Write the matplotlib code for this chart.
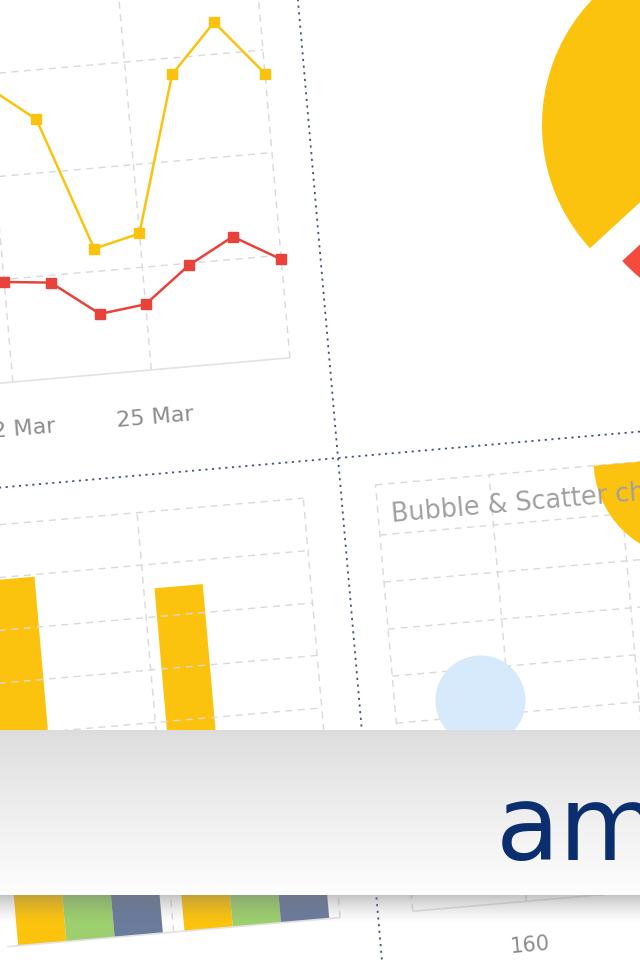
import numpy as np
import matplotlib
matplotlib.use('Agg')
import matplotlib.pyplot as plt
from matplotlib.transforms import Affine2D
from matplotlib.patches import Polygon

# line chart (daily values)
dates = ['22 Mar', '23 Mar', '24 Mar', '25 Mar', '26 Mar', '27 Mar', '28 Mar']
yellow_line = [28.8, 25.2, 12.2, 13.3, 28.4, 33.1, 27.7]
red_line = [9.75, 9.3, 5.85, 6.4, 9.8, 12.2, 9.6]

# clustered columns
bar_groups = ['A', 'B']
bars_yellow = [69.6, 65.4]
bars_green = [31, 33]
bars_blue = [24, 28]

# pie
pie_sizes = [128, 232]

# bubbles
bubble_x = [155.6, 191.2]
bubble_y = [43.3, 90.1]
bubble_value = [23, 50]
bubble_ticks = [160]

YELLOW = '#fcc30e'
RED = '#e8423a'
GRID = '#d9d9d9'
W, H = 640, 960

fig = plt.figure(figsize=(6.4, 9.6), dpi=100)
fig.patch.set_facecolor('white')

# whole picture is tilted a few degrees around the panel cross
rot = Affine2D().rotate_deg_around(338, H - 458, 5)


def panel(left, top, right, bottom):
    ax = fig.add_axes([left / W, 1 - bottom / H, (right - left) / W, (bottom - top) / H])
    ax.set_axis_off()
    return ax


dash = dict(color=GRID, lw=1, linestyles=(0, (5, 4)), clip_on=False)

# ---- line chart
ax1 = panel(-118.3, -58, 298.8, 354)
T1 = ax1.transData + rot
ax1.hlines([10, 20, 30], -3, 6, transform=T1, **dash)
ax1.vlines([0, 3, 6], 0, 40, transform=T1, **dash)
ax1.hlines([0], -3, 6, transform=T1, color='#e2e2e2', lw=1.2, clip_on=False)
xi = np.arange(len(yellow_line))
ax1.plot(xi, yellow_line, color=YELLOW, lw=1.8, marker='s', ms=7, transform=T1, clip_on=False)
ax1.plot(xi, red_line, color=RED, lw=1.8, marker='s', ms=7, transform=T1, clip_on=False)
for i in (0, 3):
    ax1.text(i, -4.66, dates[i], transform=T1, rotation=5, rotation_mode='anchor',
             ha='center', va='center', fontsize=16, color='#8c8c8c', clip_on=False)
ax1.set_xlim(-3, 6)
ax1.set_ylim(0, 40)

# ---- bar chart
ax2 = panel(-34, 495, 300, 916)
T2 = ax2.transData + rot
ax2.hlines(np.arange(10, 90, 10), -0.5, 1.5, transform=T2, **dash)
ax2.vlines([0.5, 1.5], 0, 80, transform=T2, **dash)
xc = np.arange(len(bar_groups))
bw = 0.29
for k, (vals, col) in enumerate([(bars_yellow, YELLOW), (bars_green, '#9dcf6e'), (bars_blue, '#6b7b9c')]):
    ax2.bar(xc + (k - 1) * bw, vals, width=bw, color=col, lw=0, transform=T2, clip_on=False)
ax2.hlines([0], -0.5, 1.5, transform=T2, color='#e2e2e2', lw=1.2, clip_on=False)
ax2.set_xlim(-0.5, 1.5)
ax2.set_ylim(0, 80)

# ---- pie
ax3 = panel(751.5 - 182, 160 - 182, 751.5 + 182, 160 + 182)
wedges, _ = ax3.pie(pie_sizes, colors=[YELLOW, '#f44b3c'], startangle=89.6,
                    explode=[0, 0.19], radius=1, wedgeprops=dict(lw=0))
for w in wedges:
    w.set_transform(ax3.transData + rot)
    w.set_clip_on(False)
ax3.set_xlim(-1, 1)
ax3.set_ylim(-1, 1)
ax3.set_axis_off()

# ---- bubble chart
ax4 = panel(373, 488, 800, 916)
ax4.set_xlim(142.4, 208.3)
ax4.set_ylim(0, 90.68)
T4 = ax4.transData + rot
ax4.hlines(np.arange(10, 90, 10), 142.4, 208.3, transform=T4, **dash)
ax4.vlines([142.4, 160, 180, 200], 0, 90.68, transform=T4, **dash)
ax4.hlines([90.68], 142.4, 208.3, transform=T4, **dash)
ax4.hlines([0], 142.4, 208.3, transform=T4, color='#e2e2e2', lw=1.2, clip_on=False)
clip = Polygon([(0, 0), (1, 0), (1, 1), (0, 1)], closed=True, transform=ax4.transAxes + rot)
for bx, by, bv, col in zip(bubble_x, bubble_y, bubble_value, ['#d6eafb', YELLOW]):
    ln, = ax4.plot([bx], [by], 'o', ms=bv * 2.82, color=col, mec='none', transform=T4)
    ln.set_clip_path(clip)
ax4.text(144.4, 82.6, 'Bubble & Scatter charts', transform=T4, rotation=5, rotation_mode='anchor',
         ha='left', va='baseline', fontsize=18.4, color='#a0a0a0', clip_on=False, zorder=5)
for v in bubble_ticks:
    ax4.text(v, -9.3, str(v), transform=T4, rotation=5, rotation_mode='anchor',
             ha='center', va='center', fontsize=15, color='#8c8c8c', clip_on=False)

# ---- dotted separators between panels
frame = panel(0, 0, W, H)
frame.set_xlim(0, W)
frame.set_ylim(H, 0)
TF = frame.transData + rot
sep = dict(color='#44557a', lw=1.3, ls=(0, (1.2, 2.5)), transform=TF, clip_on=False)
frame.plot([338, 338], [-200, 1200], **sep)
frame.plot([-200, 900], [458, 458], **sep)

# ---- banner with logo (not tilted)
top = panel(0, 0, W, H)
top.set_zorder(10)
t = np.linspace(0, 1, 165)[:, None, None]
c0 = np.array([0.865, 0.865, 0.865])
c1 = np.array([0.995, 0.995, 0.995])
grad = c0 + (c1 - c0) * t ** 0.9
top.imshow(grad, extent=(0, W, 895, 730), aspect='auto', interpolation='bilinear')
s = np.linspace(0, 1, 30)[:, None]
shadow = np.zeros((30, 1, 4))
shadow[..., :3] = 0.45
shadow[..., 3] = 0.42 * (1 - s) ** 1.5
top.imshow(shadow, extent=(0, W, 925, 895), aspect='auto', interpolation='bilinear')
top.text(496, 860, 'amcharts', fontsize=75, color='#0a2e6e', ha='left', va='baseline')
top.set_xlim(0, W)
top.set_ylim(H, 0)
top.set_axis_off()

fig.savefig('out.png', dpi=100)
